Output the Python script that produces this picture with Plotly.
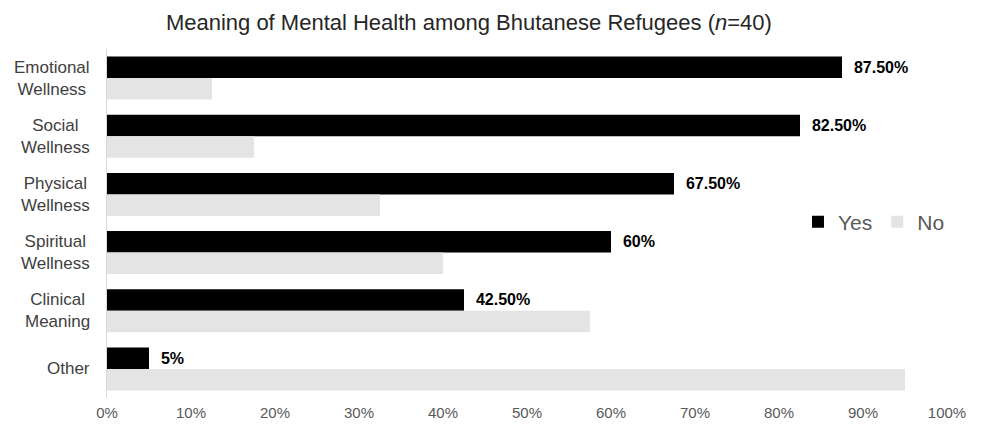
import plotly.graph_objects as go

categories = ["Emotional<br>Wellness", "Social<br>Wellness", "Physical<br>Wellness",
              "Spiritual<br>Wellness", "Clinical<br>Meaning", "Other"]
yes_values = [87.5, 82.5, 67.5, 60, 42.5, 5]
no_values = [12.5, 17.5, 32.5, 40, 57.5, 95]
yes_labels = ["87.50%", "82.50%", "67.50%", "60%", "42.50%", "5%"]
tick_vals = [0, 10, 20, 30, 40, 50, 60, 70, 80, 90, 100]
tick_text = ["0%", "10%", "20%", "30%", "40%", "50%", "60%", "70%", "80%", "90%", "100%"]

FONT = "Liberation Sans, Arial, sans-serif"
pad = "\u00a0\u00a0"

fig = go.Figure()
fig.add_trace(go.Bar(
    y=categories, x=yes_values, orientation="h", name="Yes",
    marker=dict(color="#000000", line=dict(width=0)),
    text=[pad + t for t in yes_labels], textposition="outside",
    textfont=dict(family=FONT, size=16, color="#000000", weight="bold"),
    cliponaxis=False,
))
fig.add_trace(go.Bar(
    y=categories, x=no_values, orientation="h", name="No",
    marker=dict(color="#e4e4e4", line=dict(width=0)),
))

for c in categories:
    fig.add_annotation(
        x=0, xref="paper", xshift=-15, y=c, yref="y",
        text=c, showarrow=False, xanchor="right", yanchor="middle", align="center",
        font=dict(family=FONT, size=17, color="#404040"),
    )

fig.update_layout(
    width=983, height=425,
    margin=dict(l=107, r=36, t=49, b=27),
    paper_bgcolor="white", plot_bgcolor="white",
    barmode="group", bargap=0.26, bargroupgap=0,
    title=dict(
        text="Meaning of Mental Health among Bhutanese Refugees (<i>n</i>=40)",
        x=0.477, xanchor="center", y=0.948, yanchor="middle",
        font=dict(family=FONT, size=22, color="#262626"),
    ),
    xaxis=dict(
        range=[0, 100], tickvals=tick_vals, ticktext=tick_text,
        showgrid=False, zeroline=False, showline=False, ticks="",
        tickfont=dict(family=FONT, size=15, color="#595959"),
        ticklabelstandoff=4, automargin=False, fixedrange=True,
    ),
    yaxis=dict(
        autorange="reversed", showticklabels=False, showgrid=False,
        showline=True, linecolor="#d9d9d9", linewidth=1, ticks="",
        automargin=False,
    ),
    legend=dict(
        orientation="h", x=0.8226, xanchor="left", y=0.504, yanchor="middle",
        font=dict(family=FONT, size=21, color="#595959"),
        bgcolor="rgba(0,0,0,0)", itemwidth=30, traceorder="normal",
    ),
    showlegend=True,
)

fig.write_html("out.html")
